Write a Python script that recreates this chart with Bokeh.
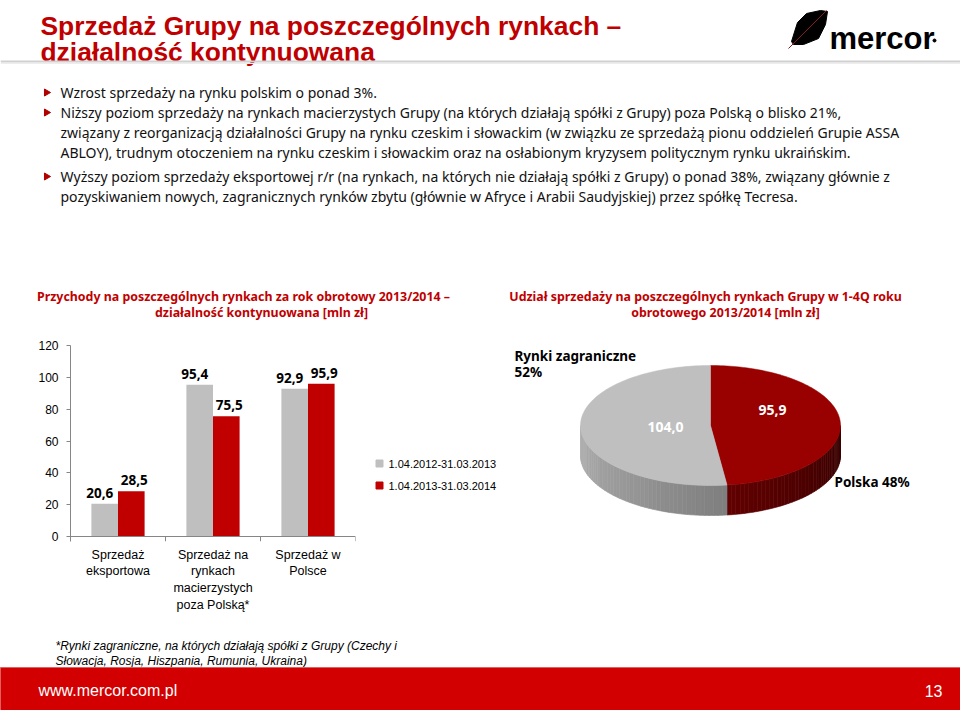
import numpy as np
from bokeh.plotting import figure
from bokeh.models import Range1d, FactorRange, ColumnDataSource, FixedTicker, Span
from bokeh.layouts import column, row
from bokeh.transform import dodge
from bokeh.core.properties import value
from bokeh.embed import file_html
from bokeh.resources import INLINE

# ---------------- data ----------------
categories = ["Sprzedaż\neksportowa",
              "Sprzedaż na\nrynkach\nmacierzystych\npoza Polską*",
              "Sprzedaż w\nPolsce"]
series_names = ["1.04.2012-31.03.2013", "1.04.2013-31.03.2014"]
values_2013 = [20.6, 95.4, 92.9]
values_2014 = [28.5, 75.5, 95.9]
y_ticks = [0, 20, 40, 60, 80, 100, 120]

pie_names = ["Polska", "Rynki zagraniczne"]
pie_values = [95.9, 104.0]
pie_shares = ["48%", "52%"]

title_lines = ["Sprzedaż Grupy na poszczególnych rynkach –", "działalność kontynuowana"]
bullet_lines = [
    "Wzrost sprzedaży na rynku polskim o ponad 3%.",
    "Niższy poziom sprzedaży na rynkach macierzystych Grupy (na których działają spółki z Grupy) poza Polską o blisko 21%,",
    "związany z reorganizacją działalności Grupy na rynku czeskim i słowackim (w związku ze sprzedażą pionu oddzieleń Grupie ASSA",
    "ABLOY), trudnym otoczeniem na rynku czeskim i słowackim oraz na osłabionym kryzysem politycznym rynku ukraińskim.",
    "Wyższy poziom sprzedaży eksportowej r/r (na rynkach, na których nie działają spółki z Grupy) o ponad 38%, związany głównie z",
    "pozyskiwaniem nowych, zagranicznych rynków zbytu (głównie w Afryce i Arabii Saudyjskiej)  przez spółkę Tecresa.",
]
bullet_marks = [0, 1, 4]
bar_title = ["Przychody na poszczególnych rynkach za rok obrotowy 2013/2014 –",
             "działalność kontynuowana [mln zł]"]
pie_title = ["Udział sprzedaży na poszczególnych rynkach Grupy w 1-4Q roku",
             "obrotowego 2013/2014 [mln zł]"]
footnote = ["*Rynki zagraniczne, na których działają spółki z Grupy (Czechy i",
            "Słowacja, Rosja, Hiszpania, Rumunia, Ukraina)"]
site = "www.mercor.com.pl"
page_no = "13"
logo_text = "mercor"

RED = "#C00000"
GRAY = "#BFBFBF"
AXIS = "#868686"


def fmt(v):
    return f"{v:.1f}".replace(".", ",")


def canvas(w, h, x0, x1, y0, y1, bt=0, bb=0):
    f = figure(width=w, height=h, x_range=Range1d(x0, x1), y_range=Range1d(y1, y0),
               output_backend="svg", toolbar_location=None,
               x_axis_location=None, y_axis_location=None, min_border=0,
               min_border_top=bt, min_border_bottom=bb)
    f.grid.grid_line_color = None
    f.outline_line_color = None
    return f


def txt(f, x, y, s, size, color="black", font="Noto Sans", style="normal",
        align="left", baseline="middle"):
    f.text(x=[x], y=[y], text=[s], text_font=value(font), text_font_size=size,
           text_color=color, text_font_style=style, text_align=align,
           text_baseline=baseline)


# ---------------- top part (ref y 0..330) ----------------
top = canvas(960, 330, 0, 960, 0, 330)
txt(top, 40, 25, title_lines[0], "26.4px", RED, "Liberation Sans", "bold", baseline="alphabetic")
txt(top, 40, 51, title_lines[1], "26.4px", RED, "Liberation Sans", "bold", baseline="alphabetic")

# logo
top.patch(x=[791, 797, 806, 820, 827, 825, 818, 803, 793],
          y=[41, 22, 13, 10, 11, 24, 38, 44, 44], color="black")
top.line(x=[788, 826], y=[48, 10], color="#8B1A1A", line_width=1)
txt(top, 829, 38, logo_text, "31px", "black", "Liberation Sans", "bold", baseline="alphabetic")
top.scatter(x=[934], y=[40], size=3, color="black")

# header rule
top.line(x=[0, 960], y=[61, 61], color="#D0D0D0", line_width=2)
top.line(x=[0, 960], y=[63, 63], color="#EDEDED", line_width=1)

bullet_y = [92, 112, 132, 152, 176, 196]
for i, s in enumerate(bullet_lines):
    txt(top, 60, bullet_y[i], s, "14px", "#111111", "Noto Sans")
top.scatter(x=[46] * len(bullet_marks), y=[bullet_y[i] for i in bullet_marks],
            marker="triangle", angle=-np.pi / 2, size=7, color="#B00000")

txt(top, 243, 296, bar_title[0], "12.4px", RED, "Noto Sans", "bold", align="center")
txt(top, 261, 312, bar_title[1], "12.4px", RED, "Noto Sans", "bold", align="center")
txt(top, 705, 296, pie_title[0], "12.4px", RED, "Noto Sans", "bold", align="center")
txt(top, 725, 312, pie_title[1], "12.4px", RED, "Noto Sans", "bold", align="center")

# ---------------- bar chart (ref x 0..370, y 330..620) ----------------
# the frame reaches 5 px below zero so that the category-edge ticks hang below the zero line
src = ColumnDataSource(dict(cat=categories, v13=values_2013, v14=values_2014,
                            l13=[fmt(v) for v in values_2013],
                            l14=[fmt(v) for v in values_2014]))
bar = figure(width=370, height=290, x_range=FactorRange(*categories), y_range=Range1d(-3.14, 120),
             output_backend="svg", toolbar_location=None,
             min_border_left=70, min_border_right=15, min_border_top=15, min_border_bottom=79)
bar.grid.grid_line_color = None
bar.outline_line_color = None
bar.vbar(x=dodge("cat", -0.14, range=bar.x_range), top="v13", width=0.28, source=src,
         fill_color=GRAY, line_color=None)
bar.vbar(x=dodge("cat", 0.14, range=bar.x_range), top="v14", width=0.28, source=src,
         fill_color=RED, line_color=None)
bar.add_layout(Span(location=0, dimension="width", line_color=AXIS, line_width=1))
bar.segment(x0=dodge("cat", 0.5, range=bar.x_range), x1=dodge("cat", 0.5, range=bar.x_range),
            y0=0, y1=-3.14, source=src, line_color=AXIS, line_width=1)
for xo, dx, ycol, col in [(-0.14, -5, "v13", "l13"), (0.14, 3, "v14", "l14")]:
    bar.text(x=dodge("cat", xo, range=bar.x_range), y=ycol,
             text=col, source=src, text_align="center", text_baseline="bottom",
             x_offset=dx, y_offset=-6,
             text_font=value("Noto Sans"), text_font_style="bold", text_font_size="13.5px",
             text_color="black")

bar.yaxis.ticker = FixedTicker(ticks=y_ticks)
for ax in [bar.xaxis[0], bar.yaxis[0]]:
    ax.axis_line_color = AXIS
    ax.major_tick_line_color = AXIS
    ax.minor_tick_line_color = None
    ax.major_tick_in = 0
    ax.major_label_text_font = "Liberation Sans"
    ax.major_label_text_color = "black"
bar.yaxis.major_tick_out = 4
bar.yaxis.major_label_standoff = 8
bar.yaxis.major_label_text_font_size = "12px"
bar.xaxis.axis_line_color = None
bar.xaxis.major_tick_out = 0
bar.xaxis.major_tick_line_color = None
bar.xaxis.major_label_standoff = 6
bar.xaxis.major_label_text_font_size = "12.5px"

# ---------------- pie + legend (ref x 370..960, frame y 345..541) ----------------
pie = canvas(590, 290, 370, 960, 345, 541, bt=15, bb=79)

legend_y = [463, 485]
pie.scatter(x=[379, 379], y=legend_y, marker="square", size=7,
            color=[GRAY, RED])
for yy, name in zip(legend_y, series_names):
    txt(pie, 388, yy, name, "11px", "black", "Liberation Sans")

cx, cy, rx, ry, depth = 710, 425, 130, 60, 30
total = sum(pie_values)
spans = []
start = 0.0
for v in pie_values:
    spans.append((start, start + 360.0 * v / total))
    start += 360.0 * v / total


def ex(t):
    return cx + rx * np.sin(np.radians(t))


def ey(t):
    return cy - ry * np.cos(np.radians(t))


def mix(c1, c2, f):
    a = [int(c1[i:i + 2], 16) for i in (1, 3, 5)]
    b = [int(c2[i:i + 2], 16) for i in (1, 3, 5)]
    return "#%02x%02x%02x" % tuple(int(round(a[k] + (b[k] - a[k]) * f)) for k in range(3))


side_cols = [("#340000", "#620000"), ("#7E7E7E", "#B2B2B2")]
sx, sy, sc = [], [], []
for (a, b), (c0, c1) in zip(spans, side_cols):
    lo, hi = max(a, 90), min(b, 270)
    if hi <= lo:
        continue
    edges = np.linspace(lo, hi, int((hi - lo) / 2) + 2)
    for t0, t1 in zip(edges[:-1], edges[1:]):
        sx.append([ex(t0), ex(t1), ex(t1), ex(t0)])
        sy.append([ey(t0), ey(t1), ey(t1) + depth, ey(t0) + depth])
        sc.append(mix(c0, c1, ((t0 + t1) / 2 - lo) / (hi - lo)))
pie.patches(xs=sx, ys=sy, fill_color=sc, line_color=sc, line_width=0.6)

top_cols = ["#990000", GRAY]
px, py = [], []
for (a, b) in spans:
    ts = np.linspace(a, b, 120)
    px.append([cx] + list(ex(ts)))
    py.append([cy] + list(ey(ts)))
pie.patches(xs=px, ys=py, fill_color=top_cols, line_color=top_cols, line_width=0.5)

txt(pie, 772, 409, fmt(pie_values[0]), "14px", "white", "Noto Sans", "bold", align="center")
txt(pie, 665, 426, fmt(pie_values[1]), "14px", "white", "Noto Sans", "bold", align="center")
txt(pie, 514, 355, pie_names[1], "13.5px", "black", "Noto Sans", "bold")
txt(pie, 514, 371, pie_shares[1], "13.5px", "black", "Noto Sans", "bold")
txt(pie, 834, 481, pie_names[0] + " " + pie_shares[0], "13.5px", "black", "Noto Sans", "bold")

# ---------------- bottom (ref y 620..710) ----------------
bot = canvas(960, 90, 0, 960, 620, 710)
txt(bot, 55, 645, footnote[0], "12px", "black", "Liberation Sans", "italic")
txt(bot, 55, 660, footnote[1], "12px", "black", "Liberation Sans", "italic")
bot.quad(left=[0], right=[960], top=[667], bottom=[710], color="#D20000")
bot.line(x=[0, 960], y=[667, 667], color="#E06060", line_width=1)
txt(bot, 38, 690, site, "16px", "white", "Liberation Sans")
txt(bot, 942, 690, page_no, "16px", "white", "Liberation Sans", align="right")

layout = column(top, row(bar, pie), bot)
open("out.html", "w").write(file_html(layout, INLINE))
